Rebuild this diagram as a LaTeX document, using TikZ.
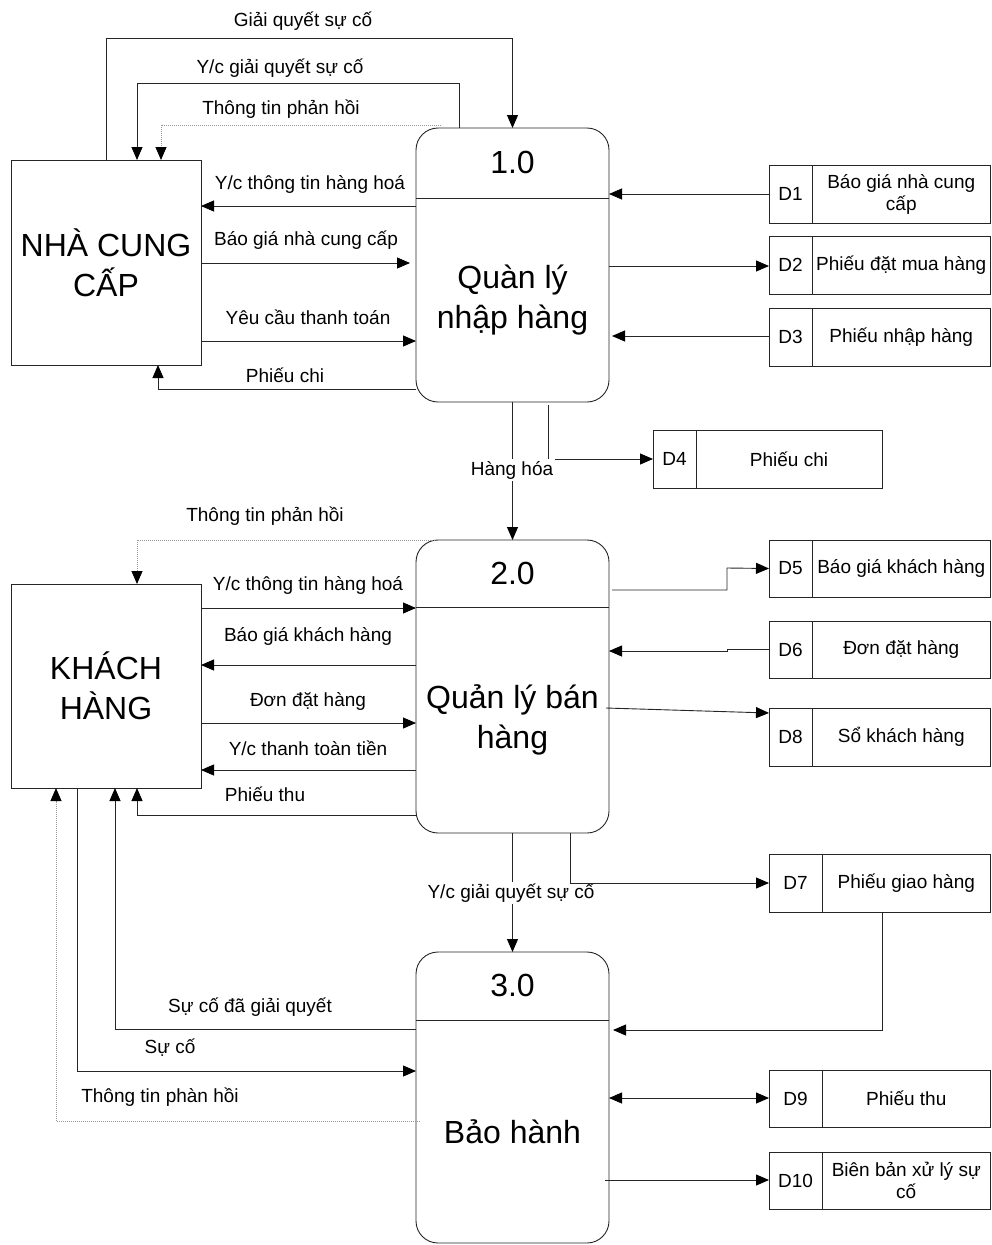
\documentclass[tikz,border=0pt]{standalone}
\usepackage{fontspec}
\setmainfont{Liberation Sans}
\usetikzlibrary{arrows.meta,calc}

% data store: name, left, top, divider x, right, bottom, id, title
\newcommand\dstore[8]{%
  \node[sbox, anchor=north west, minimum width={#5-#2}, minimum height={#6-#3}] (#1) at (#2,#3) {};
  \draw[line] (#1.north west -| #4,0) -- (#1.south west -| #4,0);
  \node[lbl] at ($(#1.west)!0.5!(#1.west -| #4,0)$) {#7};
  \node[lbl, align=center] at ($(#1.east)!0.5!(#1.east -| #4,0)$) {#8};
}

\begin{document}
\begin{tikzpicture}[x=1pt, y=-1pt,
  every node/.style={inner sep=0pt, outer sep=0pt},
  line/.style={draw=black!85, line width=0.9pt},
  tip/.style={-{Triangle[length=13pt,width=11pt,color=black]}},
  flow/.style={line, tip},
  dflow/.style={draw=black!40, line width=0.9pt, dash pattern=on 1pt off 1pt, tip},
  proc/.style={line, rounded corners=22pt, minimum width=193pt},
  ent/.style={line, minimum width=190pt},
  sbox/.style={line},
  lbl/.style={font=\fontsize{19}{22}\selectfont},
  cut/.style={lbl, fill=white, inner sep=2pt},
  big/.style={font=\fontsize{32}{40}\selectfont, align=center}
]
\fill[white] (0,0) rectangle (991,1245);
\useasboundingbox (0,0) rectangle (991,1245);

% processes
\node[proc, minimum height=274pt] (p1) at (512.5,265) {};
\node[proc, minimum height=293pt] (p2) at (512.5,686.5) {};
\node[proc, minimum height=291pt] (p3) at (512.5,1097.5) {};
\draw[line] (p1.west |- 0,198) -- (p1.east |- 0,198);
\draw[line] (p2.west |- 0,607) -- (p2.east |- 0,607);
\draw[line] (p3.west |- 0,1020) -- (p3.east |- 0,1020);
\node[big] (p1id) at (512.5,162) {1.0};
\node[big] (p1name) at (512.5,300) {Quàn lý\\nhập hàng};
\node[big] (p2id) at (512.5,573) {2.0};
\node[big] (p2name) at (512.5,720) {Quản lý bán\\hàng};
\node[big] (p3id) at (512.5,985) {3.0};
\node[big] (p3name) at (512.5,1132) {Bảo hành};

% external entities
\node[ent, minimum height=205pt] (e1) at (106,262.5) {};
\node[big] (e1name) at (e1.center) {NHÀ CUNG\\CẤP};
\node[ent, minimum height=204pt] (e2) at (106,686) {};
\node[big] (e2name) at (e2.center) {KHÁCH\\HÀNG};

% data stores
\dstore{d1}{769}{165}{812}{990.5}{223}{D1}{Báo giá nhà cung\\cấp}
\dstore{d2}{769}{236}{812}{990.5}{294}{D2}{Phiếu đặt mua hàng}
\dstore{d3}{769}{308}{812}{990.5}{366}{D3}{Phiếu nhập hàng}
\dstore{d4}{653}{430}{696}{882}{488}{D4}{Phiếu chi}
\dstore{d5}{769}{540}{812}{990.5}{597}{D5}{Báo giá khách hàng}
\dstore{d6}{769}{621}{812}{990.5}{678}{D6}{Đơn đặt hàng}
\dstore{d8}{769}{708}{812}{990.5}{766}{D8}{Sổ khách hàng}
\dstore{d7}{769}{854}{822}{990.5}{912}{D7}{Phiếu giao hàng}
\dstore{d9}{769}{1070}{822}{990.5}{1127}{D9}{Phiếu thu}
\dstore{d10}{769}{1152}{822}{990.5}{1209}{D10}{Biên bản xử lý sự\\cố}

% flows between supplier and process 1.0
\draw[flow] (e1.north) -- ++(0,-122) -| (p1.north);
\draw[flow] (p1.north -| 459,0) |- (137,83) -- (e1.north -| 137,0);
\draw[dflow] (p1.north -| 441,0) ++(0,-3) -| (e1.north -| 161,0);
\draw[flow] (p1.west |- 0,206) -- (e1.east |- 0,206);
\draw[flow] (e1.east |- 0,263) -- ($(p1.west |- 0,263)+(-6,0)$);
\draw[flow] (e1.east |- 0,341) -- (p1.west |- 0,341);
\draw[flow] (p1.west |- 0,389) -| (e1.south -| 158,0);

% process 1.0 and its stores
\draw[flow] (d1.west |- 0,194) -- (p1.east |- 0,194);
\draw[flow] (p1.east |- 0,266) -- (d2.west |- 0,266);
\draw[flow] (d3.west |- 0,336) -- ($(p1.east |- 0,336)+(3,0)$);
\draw[flow] (p1.south -| 548,0) ++(0,3) |- (d4.west);
\draw[flow] (p1.south) -- (p2.north);
\node[cut] (lhh) at (512,470) {Hàng hóa};

% flows between customer and process 2.0
\draw[dflow] (p2.north -| 435,0) -| (e2.north -| 137,0);
\draw[flow] (e2.east |- 0,608) -- (p2.west |- 0,608);
\draw[flow] (p2.west |- 0,665) -- (e2.east |- 0,665);
\draw[flow] (e2.east |- 0,723) -- (p2.west |- 0,723);
\draw[flow] (p2.west |- 0,770) -- (e2.east |- 0,770);
\draw[flow] (p2.west |- 0,815) -| (e2.south -| 137,0);

% process 2.0 and its stores
\draw[flow] ($(p2.east |- 0,590)+(3,0)$) -| (727,568) -- (d5.west);
\draw[flow] (d6.west |- 0,649) -- (727,649) -- (727,651) -- (p2.east |- 0,651);
\draw[flow] ($(p2.east |- 0,708)+(-3,0)$) -- (d8.west |- 0,713);
\draw[flow] (p2.south) -- (p3.north);
\node[cut] (lyc) at (511,893) {Y/c giải quyết sự cố};
\draw[flow] (p2.south -| 570,0) |- (d7.west);

% flows between customer and process 3.0
\draw[flow] (p3.west |- 0,1029) -| (e2.south -| 115,0);
\draw[flow] (e2.south -| 77,0) |- (p3.west |- 0,1071);
\draw[dflow] ($(p3.west |- 0,1121)+(4,0)$) -| (e2.south -| 56,0);

% process 3.0 and its stores
\draw[flow] (d7.south -| 882,0) |- ($(p3.east |- 0,1030)+(4,0)$);
\draw[line, {Triangle[length=13pt,width=11pt,color=black]}-{Triangle[length=13pt,width=11pt,color=black]}] (p3.east |- 0,1098) -- (d9.west |- 0,1098);
\draw[flow] ($(p3.east |- 0,1180)+(-4,0)$) -- (d10.west |- 0,1180);

% flow labels
\node[lbl] (l1) at (303,21) {Giải quyết sự cố};
\node[lbl] (l2) at (280,68) {Y/c giải quyết sự cố};
\node[lbl] (l3) at (281,109) {Thông tin phản hồi};
\node[lbl] (l4) at (310,184) {Y/c thông tin hàng hoá};
\node[lbl] (l5) at (306,240) {Báo giá nhà cung cấp};
\node[lbl] (l6) at (308,317) {Yêu cầu thanh toán};
\node[lbl] (l7) at (285,375) {Phiếu chi};
\node[lbl] (l8) at (265,516) {Thông tin phản hồi};
\node[lbl] (l9) at (308,585) {Y/c thông tin hàng hoá};
\node[lbl] (l10) at (308,636) {Báo giá khách hàng};
\node[lbl] (l11) at (308,701) {Đơn đặt hàng};
\node[lbl] (l12) at (308,748) {Y/c thanh toàn tiền};
\node[lbl] (l13) at (265,794) {Phiếu thu};
\node[lbl] (l14) at (250,1007) {Sự cố đã giải quyết};
\node[lbl] (l15) at (170,1048) {Sự cố};
\node[lbl] (l16) at (160,1097) {Thông tin phàn hồi};
\end{tikzpicture}
\end{document}
